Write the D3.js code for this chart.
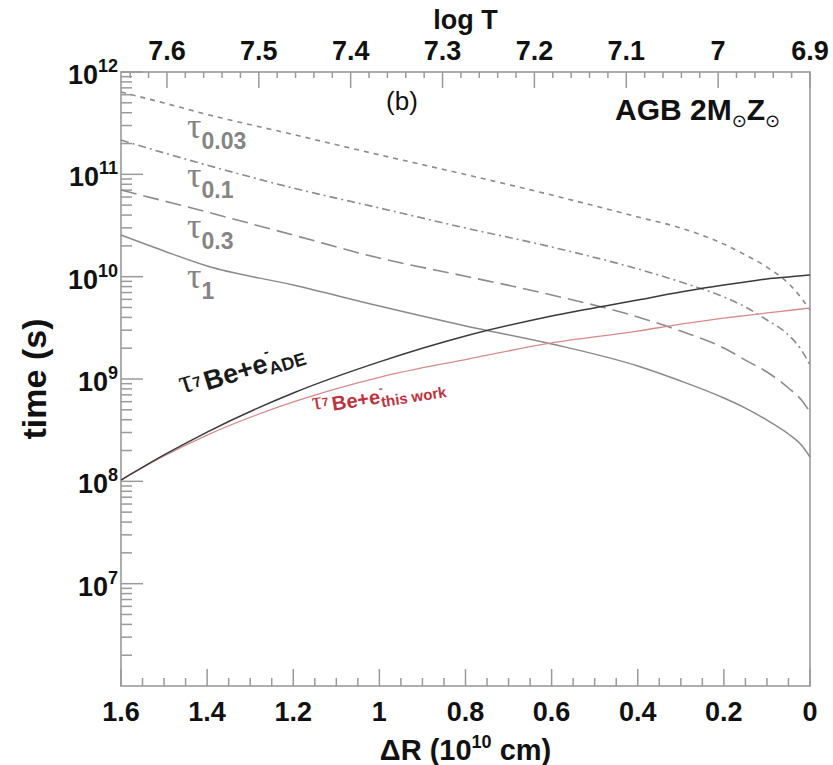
<!DOCTYPE html>
<html>
<head>
<meta charset="utf-8">
<script src="https://cdn.jsdelivr.net/npm/d3@7"></script>
<style>
  html, body { margin: 0; padding: 0; background: #fff; }
  svg { display: block; }
  text { font-family: "Liberation Sans", Arial, sans-serif; }
</style>
</head>
<body>
<div id="chart"></div>
<script>
// Shell thickness ΔR (10^10 cm), from the bottom of the shell (1.6) to the surface (0)
const deltaR = [1.6, 1.5, 1.4, 1.2, 1.0, 0.8, 0.6, 0.4, 0.3, 0.2, 0.15, 0.1, 0.05, 0.02, 0];

// Mixing timescales (s) for different fractions of the shell
const tau003 = [6.38e11, 4.98e11, 3.85e11, 2.45e11, 1.55e11, 9.96e10, 6.28e10, 3.83e10, 2.99e10, 2.08e10, 1.63e10, 1.24e10, 8.58e9, 6.18e9, 4.72e9];
const tau01  = [2.16e11, 1.62e11, 1.23e11, 7.35e10, 4.69e10, 2.99e10, 1.95e10, 1.19e10, 8.87e9, 6.33e9, 5.05e9, 3.77e9, 2.69e9, 1.92e9, 1.37e9];
const tau03  = [7.03e10, 5.49e10, 4.28e10, 2.55e10, 1.52e10, 1.01e10, 6.62e9, 4.04e9, 2.94e9, 2.01e9, 1.53e9, 1.17e9, 8.17e8, 6.23e8, 4.76e8];
const tau1   = [2.55e10, 1.78e10, 1.27e10, 8.29e9, 5.16e9, 3.30e9, 2.20e9, 1.34e9, 9.55e8, 6.52e8, 5.20e8, 3.97e8, 2.90e8, 2.26e8, 1.73e8];

// 7Be electron-capture lifetimes (s)
const tauBeADE  = [1.03e8, 1.81e8, 3.03e8, 7.30e8, 1.47e9, 2.63e9, 4.13e9, 5.91e9, 7.08e9, 8.29e9, 8.87e9, 9.49e9, 9.93e9, 1.02e10, 1.04e10];
const tauBeThis = [1.03e8, 1.77e8, 2.83e8, 5.97e8, 1.04e9, 1.55e9, 2.25e9, 2.94e9, 3.44e9, 3.94e9, 4.17e9, 4.42e9, 4.67e9, 4.83e9, 4.94e9];

// Axis ticks
const xTicks = [1.6, 1.4, 1.2, 1, 0.8, 0.6, 0.4, 0.2, 0];
const xTickLabels = ["1.6", "1.4", "1.2", "1", "0.8", "0.6", "0.4", "0.2", "0"];
const topTicks = [7.6, 7.5, 7.4, 7.3, 7.2, 7.1, 7.0, 6.9];
const topTickLabels = ["7.6", "7.5", "7.4", "7.3", "7.2", "7.1", "7", "6.9"];
const yExponents = [7, 8, 9, 10, 11, 12];

const W = 833, H = 765;
const margin = { left: 121, right: 23, top: 72, bottom: 79 };
const x0 = margin.left, x1 = W - margin.right, y0 = margin.top, y1 = H - margin.bottom;

const svg = d3.select("#chart").append("svg").attr("width", W).attr("height", H);

const x = d3.scaleLinear().domain([1.6, 0]).range([x0, x1]);
const xTop = d3.scaleLinear().domain([7.65, 6.9]).range([x0, x1]);
const y = d3.scaleLog().domain([1e6, 1e12]).range([y1, y0]);

const axisColor = "#9a9a9a";
const g = svg.append("g");

// Frame
g.append("rect").attr("x", x0).attr("y", y0).attr("width", x1 - x0).attr("height", y1 - y0)
  .attr("fill", "none").attr("stroke", axisColor).attr("stroke-width", 1.6);

// Bottom ticks (inward)
const xMinor = d3.range(0, 33).map(i => +(i * 0.05).toFixed(2));
g.selectAll(".xminor").data(xMinor).enter().append("line")
  .attr("x1", d => x(d)).attr("x2", d => x(d))
  .attr("y1", y1).attr("y2", d => y1 - (Math.abs(d * 5 - Math.round(d * 5)) < 1e-6 ? 17 : 8))
  .attr("stroke", axisColor).attr("stroke-width", 1.5);

g.selectAll(".xlab").data(xTicks).enter().append("text")
  .attr("x", d => x(d)).attr("y", 721).attr("text-anchor", "middle")
  .attr("font-size", 27).attr("font-weight", "bold").attr("fill", "#111")
  .text((d, i) => xTickLabels[i]);

// Top ticks (inward)
const topMinor = d3.range(0, 38).map(i => +(6.9 + i * 0.02).toFixed(2)).filter(v => v <= 7.65);
g.selectAll(".tminor").data(topMinor).enter().append("line")
  .attr("x1", d => xTop(d)).attr("x2", d => xTop(d))
  .attr("y1", y0).attr("y2", d => y0 + (Math.abs(d * 10 - Math.round(d * 10)) < 1e-6 ? 16 : 6))
  .attr("stroke", axisColor).attr("stroke-width", 1.5);

g.selectAll(".toplab").data(topTicks).enter().append("text")
  .attr("x", d => xTop(d)).attr("y", 60).attr("text-anchor", "middle")
  .attr("font-size", 27).attr("font-weight", "bold").attr("fill", "#111")
  .text((d, i) => topTickLabels[i]);

// Left ticks (inward), log decades with 2..9 minors
const yMinor = [];
for (let e = 6; e < 12; e++) for (let m = 2; m <= 9; m++) yMinor.push(m * Math.pow(10, e));
g.selectAll(".yminor").data(yMinor).enter().append("line")
  .attr("x1", x0).attr("x2", x0 + 11).attr("y1", d => y(d)).attr("y2", d => y(d))
  .attr("stroke", axisColor).attr("stroke-width", 1.5);
g.selectAll(".ymajor").data(yExponents).enter().append("line")
  .attr("x1", x0).attr("x2", x0 + 22).attr("y1", d => y(Math.pow(10, d))).attr("y2", d => y(Math.pow(10, d)))
  .attr("stroke", axisColor).attr("stroke-width", 1.5);

const ylab = g.selectAll(".ylab").data(yExponents).enter().append("text")
  .attr("x", 118).attr("y", d => y(Math.pow(10, d)) + 12).attr("text-anchor", "end")
  .attr("font-size", 27).attr("font-weight", "bold").attr("fill", "#111");
ylab.append("tspan").text("10");
ylab.append("tspan").attr("font-size", 18).attr("dy", -12).text(d => d);

// Axis titles
const xt = svg.append("text").attr("x", (x0 + x1) / 2).attr("y", 760).attr("text-anchor", "middle")
  .attr("font-size", 29).attr("font-weight", "bold").attr("fill", "#111");
xt.append("tspan").text("ΔR (10");
xt.append("tspan").attr("font-size", 18).attr("dy", -12).text("10");
xt.append("tspan").attr("dy", 12).text(" cm)");

svg.append("text").attr("x", (x0 + x1) / 2).attr("y", 29).attr("text-anchor", "middle")
  .attr("font-size", 27).attr("font-weight", "bold").attr("fill", "#111").text("log T");

svg.append("text").attr("transform", `translate(46,${(y0 + y1) / 2}) rotate(-90)`)
  .attr("text-anchor", "middle").attr("font-size", 34).attr("font-weight", "bold").attr("fill", "#111")
  .text("time (s)");

// Curves
const series = [
  { v: tau003, color: "#8c8c8c", dash: "5,5", w: 1.6 },
  { v: tau01, color: "#8c8c8c", dash: "8,4,2,4", w: 1.6 },
  { v: tau03, color: "#8c8c8c", dash: "16,7", w: 1.6 },
  { v: tau1, color: "#8a8a8a", dash: null, w: 1.5 },
  { v: tauBeThis, color: "#d88a8a", dash: null, w: 1.3 },
  { v: tauBeADE, color: "#3a3a3a", dash: null, w: 1.5 }
];
const line = d3.line().x(d => x(d[0])).y(d => y(d[1])).curve(d3.curveMonotoneX);
const curves = svg.append("g");
series.forEach(s => {
  curves.append("path").datum(deltaR.map((r, i) => [r, s.v[i]]))
    .attr("d", line).attr("fill", "none").attr("stroke", s.color)
    .attr("stroke-width", s.w).attr("stroke-dasharray", s.dash);
});

// Timescale labels
const tauColor = "#858585";
const tauLabels = [
  { sub: "0.03", yb: 138 },
  { sub: "0.1", yb: 187 },
  { sub: "0.3", yb: 238 },
  { sub: "1", yb: 288 }
];
tauLabels.forEach(l => {
  const t = svg.append("text").attr("x", 187).attr("y", l.yb).attr("fill", tauColor);
  t.append("tspan").attr("font-family", "'Liberation Serif', 'DejaVu Serif', serif").attr("font-size", 36).text("τ");
  t.append("tspan").attr("font-size", 23).attr("font-weight", "bold").attr("dy", 11).text(l.sub);
});

// 7Be lifetime labels
function beLabel(xp, yp, angle, color, big, small, tail, tailSize) {
  const t = svg.append("text").attr("transform", `translate(${xp},${yp}) rotate(${angle})`).attr("fill", color);
  t.append("tspan").attr("font-family", "'Liberation Serif', 'DejaVu Serif', serif").attr("font-size", big * 1.25).text("τ");
  t.append("tspan").attr("font-size", small).attr("font-weight", "bold").attr("dy", -2).text("7");
  t.append("tspan").attr("font-size", big).attr("font-weight", "bold").attr("dx", 3).attr("dy", 6).text("Be+e");
  t.append("tspan").attr("font-size", small).attr("font-weight", "bold").attr("dy", -big * 0.55).text("-");
  t.append("tspan").attr("font-size", tailSize).attr("font-weight", "bold").attr("dx", -small * 0.3).attr("dy", big * 0.55 + 4).text(tail);
}
beLabel(182, 394, -17, "#1a1a1a", 27, 15, "ADE", 18);
beLabel(313, 410, -9, "#c0303c", 20, 12, "this work", 15);

// Panel annotations
svg.append("text").attr("x", 402).attr("y", 110).attr("text-anchor", "middle")
  .attr("font-size", 26).attr("fill", "#111").text("(b)");

const agb = svg.append("text").attr("x", 615).attr("y", 120).attr("font-size", 30)
  .attr("font-weight", "bold").attr("fill", "#111");
agb.append("tspan").text("AGB 2M");
agb.append("tspan").attr("font-family", "'DejaVu Sans', sans-serif").attr("font-weight", "normal")
  .attr("font-size", 18).attr("dy", 7).text("⊙");
agb.append("tspan").attr("dy", -7).text("Z");
agb.append("tspan").attr("font-family", "'DejaVu Sans', sans-serif").attr("font-weight", "normal")
  .attr("font-size", 18).attr("dy", 7).text("⊙");
</script>
</body>
</html>
